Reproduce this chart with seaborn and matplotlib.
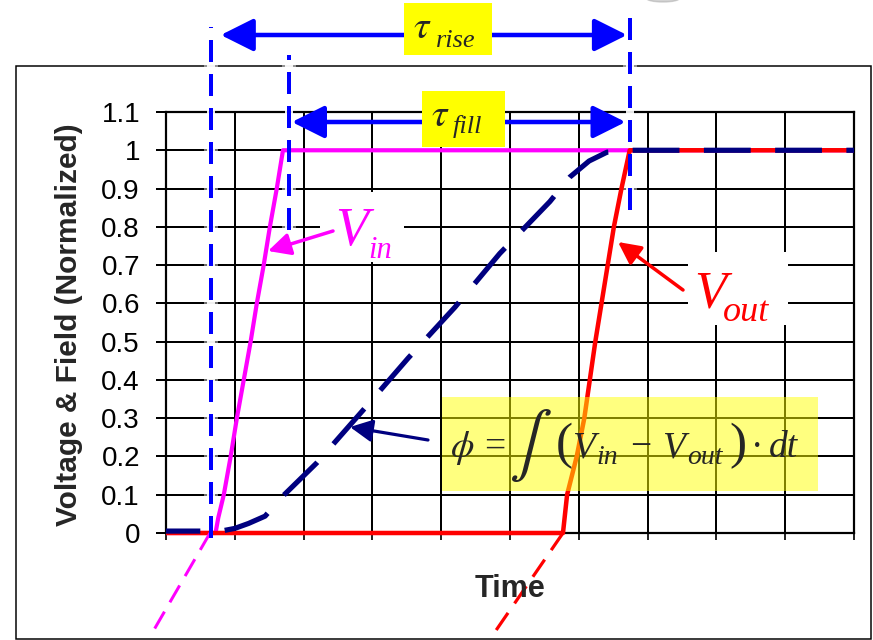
import matplotlib
matplotlib.use("Agg")
import matplotlib.pyplot as plt
import seaborn as sns
import pandas as pd
from matplotlib.patches import Rectangle, Ellipse

# ---- data -----------------------------------------------------------------
time_vin = [0.0, 0.72, 0.76, 0.84, 0.94, 1.03, 1.13, 1.23, 1.32, 1.42, 1.51, 1.61, 1.70, 10.0]
vin = [0.0, 0.0, 0.04, 0.10, 0.20, 0.30, 0.40, 0.50, 0.60, 0.70, 0.80, 0.90, 1.00, 1.00]

time_vout = [0.0, 5.77, 5.83, 5.97, 6.08, 6.16, 6.24, 6.33, 6.42, 6.51, 6.62, 6.74, 10.0]
vout = [0.0, 0.0, 0.10, 0.20, 0.30, 0.40, 0.50, 0.60, 0.70, 0.80, 0.90, 1.00, 1.00]

time_phi = [0.0, 0.80, 1.00, 1.20, 1.44, 1.69, 2.19, 2.86, 3.52, 4.20, 4.85, 5.58, 5.87, 6.15, 6.41, 6.74, 10.0]
phi = [0.005, 0.005, 0.012, 0.025, 0.044, 0.095, 0.183, 0.32, 0.457, 0.59, 0.73, 0.866, 0.93, 0.972, 0.995, 1.0, 1.0]

# straight-line extensions of the two rising edges below zero
vin_ext_t = [0.64, -0.23]
vin_ext_v = [0.0, -0.27]
vout_ext_t = [5.77, 4.71]
vout_ext_v = [0.0, -0.277]

# characteristic times
tau_rise_start = 0.655
tau_fill_start = 1.79
tau_end = 6.74

y_ticks = [0.0, 0.1, 0.2, 0.3, 0.4, 0.5, 0.6, 0.7, 0.8, 0.9, 1.0, 1.1]
y_tick_labels = ["0", "0.1", "0.2", "0.3", "0.4", "0.5", "0.6", "0.7", "0.8", "0.9", "1", "1.1"]
x_ticks = list(range(11))

# ---- style ----------------------------------------------------------------
W, H, DPI = 873, 640, 100
sns.set_theme(style="white")
plt.rcParams["font.family"] = ["Liberation Sans", "DejaVu Sans"]
plt.rcParams["mathtext.fontset"] = "stix"

MAGENTA, RED, NAVY, BLUE = "#FF00FF", "#FF0000", "#000080", "#0000FF"
PT = 72.0 / DPI  # points per pixel
SERIF = ["Liberation Serif", "DejaVu Serif"]

fig = plt.figure(figsize=(W / DPI, H / DPI), dpi=DPI)
fig.patch.set_facecolor("white")

AX_L, AX_R, AX_T, AX_B = 166, 854, 112, 533
ax = fig.add_axes([AX_L / W, 1 - AX_B / H, (AX_R - AX_L) / W, (AX_B - AX_T) / H])


def px2data(px, py):
    return ((px - AX_L) / (AX_R - AX_L) * 10.0, (AX_B - py) / (AX_B - AX_T) * 1.1)


def fig_xy(px, py):
    return (px / W, 1 - py / H)


def put(px, py, s, size, ha="left", va="baseline", **kw):
    kw.setdefault("zorder", 10)
    return fig.text(*fig_xy(px, py), s, fontsize=size, ha=ha, va=va, **kw)


# outer chart frame
fig.patches.append(Rectangle(fig_xy(16, 639), (871 - 16) / W, (639 - 66) / H,
                             transform=fig.transFigure, fill=False,
                             edgecolor="black", linewidth=1.5 * PT, zorder=-1))
fig.patches.append(Ellipse(fig_xy(663, -2), 34 / W, 8 / H, transform=fig.transFigure,
                           color="#a8a8a8", alpha=0.5, zorder=-1))

# ---- curves ---------------------------------------------------------------
df_vin = pd.DataFrame({"t": time_vin, "v": vin})
df_vout = pd.DataFrame({"t": time_vout, "v": vout})
df_phi = pd.DataFrame({"t": time_phi, "v": phi})

sns.lineplot(data=df_vin, x="t", y="v", ax=ax, color=MAGENTA, linewidth=4.2 * PT,
             estimator=None, sort=False, zorder=3)
sns.lineplot(data=df_vout, x="t", y="v", ax=ax, color=RED, linewidth=4.5 * PT,
             estimator=None, sort=False, zorder=4)
sns.lineplot(data=df_phi, x="t", y="v", ax=ax, color=NAVY, linewidth=5.2 * PT,
             estimator=None, sort=False, zorder=5, linestyle=(2.4, (9.0, 4.7)))
for ln in ax.get_lines():
    ln.set_solid_capstyle("butt")
    ln.set_dash_capstyle("butt")
    ln.set_clip_on(False)

ax.plot(vin_ext_t, vin_ext_v, color=MAGENTA, linewidth=3 * PT, linestyle=(0, (6.5, 3.6)),
        clip_on=False, zorder=6)
ax.plot(vout_ext_t, vout_ext_v, color=RED, linewidth=3.2 * PT, linestyle=(0, (6.5, 3.6)),
        clip_on=False, zorder=6)

# axes, grid and ticks
ax.set_xlim(0, 10)
ax.set_ylim(0, 1.1)
ax.set_xlabel("")
ax.set_ylabel("")
ax.set_xticks(x_ticks)
ax.set_yticks(y_ticks)
ax.set_yticklabels(y_tick_labels)
ax.grid(True, color="black", linewidth=2.0 * PT)
ax.set_axisbelow(True)
ax.tick_params(axis="y", left=True, direction="out", length=10 * PT, width=2 * PT,
               pad=16 * PT, labelsize=20, colors="black")
ax.tick_params(axis="x", bottom=True, direction="out", length=7 * PT, width=2 * PT,
               labelbottom=False)
for s in ax.spines.values():
    s.set_color("black")
    s.set_linewidth(2.2 * PT)

# ---- characteristic-time markers --------------------------------------------
vlines = [
    (tau_rise_start, px2data(0, 538)[1], px2data(0, 27)[1]),
    (tau_fill_start, px2data(0, 230)[1], px2data(0, 55)[1]),
    (tau_end, px2data(0, 210)[1], px2data(0, 17)[1]),
]
for xv, y0, y1 in vlines:
    ax.plot([xv, xv], [y0 - 0.01, y1 + 0.01], color="white", linewidth=14 * PT, alpha=0.45,
            clip_on=False, zorder=2.5, solid_capstyle="round")
    ax.plot([xv, xv], [y0, y1], color="white", linewidth=8 * PT, alpha=0.9,
            clip_on=False, zorder=2.6)
    ax.plot([xv, xv], [y0, y1], color=BLUE, linewidth=4 * PT, linestyle=(0, (5.5, 3.0)),
            dash_capstyle="butt", clip_on=False, zorder=8)

y_rise = px2data(0, 35)[1]
y_fill = px2data(0, 122)[1]
head = "<|-|>,head_length=1.0,head_width=0.5"
ax.annotate("", xy=(tau_rise_start, y_rise), xytext=(tau_end, y_rise),
            arrowprops=dict(arrowstyle=head, color=BLUE, lw=4.5 * PT, mutation_scale=20,
                            shrinkA=2, shrinkB=7),
            annotation_clip=False, zorder=8)
ax.annotate("", xy=(tau_fill_start, y_fill), xytext=(tau_end, y_fill),
            arrowprops=dict(arrowstyle=head, color=BLUE, lw=4.5 * PT, mutation_scale=20,
                            shrinkA=3, shrinkB=2),
            annotation_clip=False, zorder=8)


def box(px0, py0, px1, py1, color, alpha=1.0, z=9):
    x0, y0 = px2data(px0, py1)
    x1, y1 = px2data(px1, py0)
    ax.add_patch(Rectangle((x0, y0), x1 - x0, y1 - y0, facecolor=color, edgecolor="none",
                           alpha=alpha, clip_on=False, zorder=z))


box(404, 3, 492, 55, "#FFFF00")
box(422, 91, 505, 147, "#FFFF00")
put(413, 38, r"$\tau$", 28)
put(436, 47, "rise", 19, style="italic", family=SERIF)
put(431, 126, r"$\tau$", 28)
put(453, 133, "fill", 19, style="italic", family=SERIF)

# ---- curve labels -----------------------------------------------------------
box(320, 192, 404, 262, "white", z=2)
box(688, 252, 788, 325, "white", z=2)

put(335, 245, "V", 39, style="italic", family=SERIF, color=MAGENTA)
put(368, 258, "in", 22, style="italic", family=SERIF, color=MAGENTA)
put(694, 308, "V", 38, style="italic", family=SERIF, color=RED)
put(723, 321, "out", 26, style="italic", family=SERIF, color=RED)

small_head = "-|>,head_length=0.9,head_width=0.45"
ax.annotate("", xy=px2data(268, 251), xytext=px2data(333, 231),
            arrowprops=dict(arrowstyle=small_head, color=MAGENTA, lw=3.5 * PT,
                            mutation_scale=15, shrinkA=0, shrinkB=0),
            annotation_clip=False, zorder=8)
ax.annotate("", xy=px2data(618, 242), xytext=px2data(683, 290),
            arrowprops=dict(arrowstyle=small_head, color=RED, lw=3.5 * PT,
                            mutation_scale=15, shrinkA=0, shrinkB=0),
            annotation_clip=False, zorder=8)
ax.annotate("", xy=px2data(350, 427), xytext=px2data(428, 440),
            arrowprops=dict(arrowstyle=small_head, color=NAVY, lw=3.2 * PT,
                            mutation_scale=15, shrinkA=0, shrinkB=0),
            annotation_clip=False, zorder=8)

# flux formula on a translucent highlight
box(442, 397, 818, 491, "#FFFF00", alpha=0.5, z=9)
FS = 27
put(450, 457, r"$\phi$", FS)
put(484, 457, "=", FS, family=SERIF)
put(530, 445, r"$\int$", 46, ha="center", va="center")
put(564, 446, "(", 37, ha="center", va="center", family=SERIF)
put(572, 457, "V", FS, style="italic", family=SERIF)
put(596, 464, "in", 20, style="italic", family=SERIF)
put(630, 457, "\u2212", FS, family=SERIF)
put(662, 457, "V", FS, style="italic", family=SERIF)
put(687, 464, "out", 20, style="italic", family=SERIF)
put(738, 446, ")", 37, ha="center", va="center", family=SERIF)
put(751, 457, "\u00b7", FS, family=SERIF)
put(769, 457, "dt", FS, style="italic", family=SERIF)

# ---- axis titles ------------------------------------------------------------
put(69, 325, "Voltage & Field (Normalized)", 21.5, ha="center", va="center",
    rotation=90, fontweight="bold", zorder=1)
put(510, 597, "Time", 22, ha="center", fontweight="bold", zorder=1)

fig.savefig("out.png", dpi=DPI)
